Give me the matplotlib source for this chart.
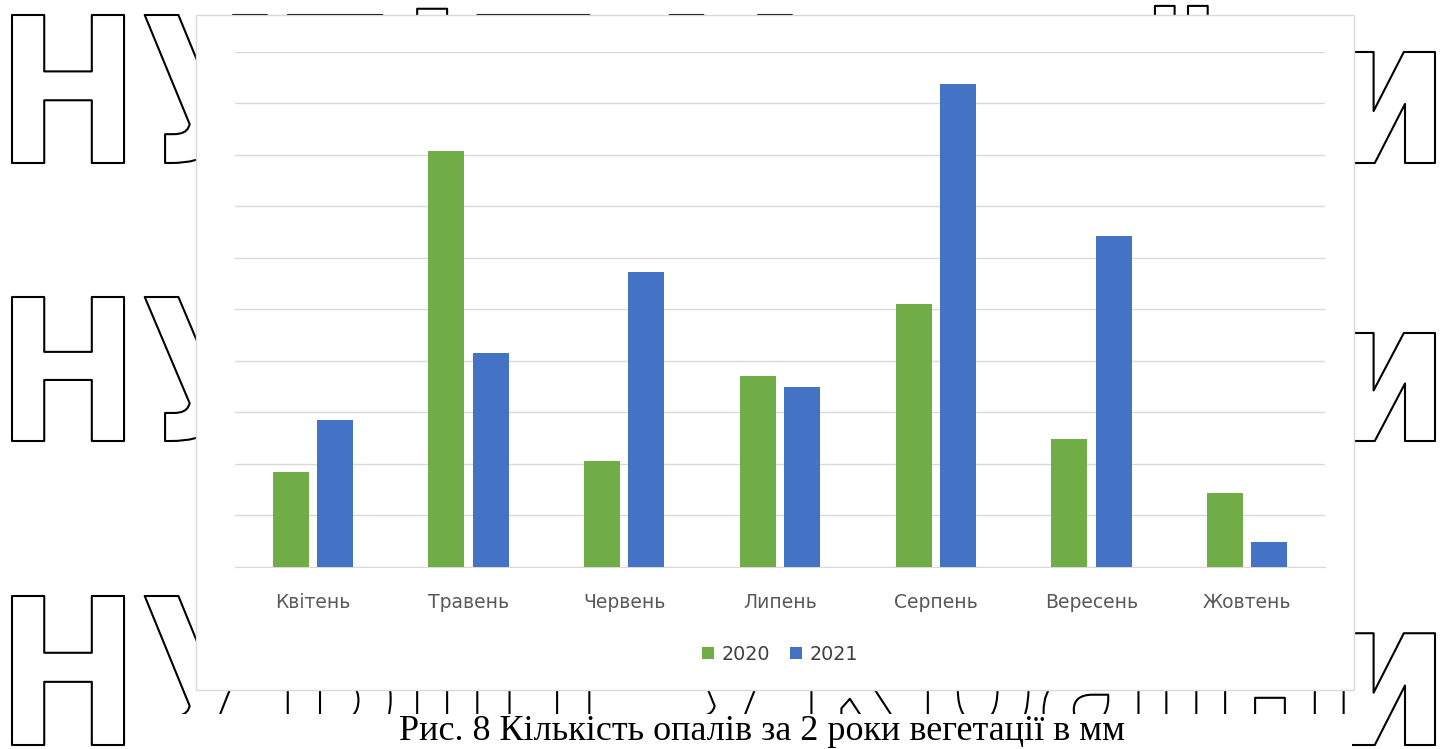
import numpy as np
import matplotlib.pyplot as plt
from matplotlib.textpath import TextPath
from matplotlib.font_manager import FontProperties
from matplotlib.patches import PathPatch, Rectangle
from matplotlib.transforms import Affine2D

months = ["Квітень", "Травень", "Червень", "Липень", "Серпень", "Вересень", "Жовтень"]
rain_2020 = [18.3, 80.7, 20.5, 37.0, 51.0, 24.8, 14.3]
rain_2021 = [28.4, 41.5, 57.2, 34.9, 93.7, 64.2, 4.8]
years = ["2020", "2021"]
caption = "Рис. 8 Кількість опалів за 2 роки вегетації в мм"

W, H = 1451, 749
fig = plt.figure(figsize=(W / 100, H / 100), dpi=100)

# page background in pixel coordinates
bg = fig.add_axes([0, 0, 1, 1])
bg.set_xlim(0, W)
bg.set_ylim(H, 0)
bg.axis("off")

# outlined watermark lines
mark = "НУБіП України"
fp = FontProperties(family="DejaVu Sans", weight="bold")
tp = TextPath((0, 0), mark, size=100, prop=fp)
cap = TextPath((0, 0), "Н", size=100, prop=fp).get_extents().height
ext = tp.get_extents()
for top, bottom in [(15, 163), (297, 441), (596, 745)]:
    sy = (bottom - top) / cap
    sx = (1435 - 12) / ext.width
    tr = Affine2D().scale(sx, -sy).translate(12 - ext.x0 * sx, bottom)
    bg.add_patch(PathPatch(tr.transform_path(tp), facecolor="white",
                           edgecolor="black", lw=1.5, joinstyle="round", zorder=1))

# chart area and caption strip
bg.add_patch(Rectangle((196, 15), 1158, 675, facecolor="white",
                       edgecolor="#d9d9d9", lw=1, zorder=3))
bg.add_patch(Rectangle((150, 714), 1202, 40, facecolor="white",
                       edgecolor="none", zorder=3))
bg.text(762, 740, caption, family="Liberation Serif", fontsize=26,
        ha="center", va="baseline", color="black", zorder=4)

ax = fig.add_axes([235 / W, 1 - 566.5 / H, 1090 / W, 515 / H])
ax.set_facecolor("none")
x = np.arange(len(months))
ax.bar(x - 0.142, rain_2020, 0.231, color="#70ad47", label=years[0], zorder=3)
ax.bar(x + 0.142, rain_2021, 0.231, color="#4472c4", label=years[1], zorder=3)

ax.set_xlim(-0.5, len(months) - 0.5)
ax.set_ylim(0, 100)
ax.set_yticks(np.arange(0, 101, 10))
ax.yaxis.grid(True, color="#d9d9d9", lw=1)
ax.set_axisbelow(True)
ax.tick_params(axis="y", length=0, labelleft=False)
for s in ["top", "left", "right"]:
    ax.spines[s].set_visible(False)
ax.spines["bottom"].set_color("#d9d9d9")

ax.set_xticks(x, months)
ax.tick_params(axis="x", length=0, pad=19, labelsize=13.5, labelcolor="#595959")

ax.legend(loc="center", bbox_to_anchor=(780 / W, 1 - 654 / H),
          bbox_transform=fig.transFigure, ncol=2, frameon=False,
          fontsize=13.8, handlelength=0.6, handleheight=0.6,
          handletextpad=0.4, columnspacing=1.05, labelcolor="#404040")

fig.savefig("out.png", dpi=100)
